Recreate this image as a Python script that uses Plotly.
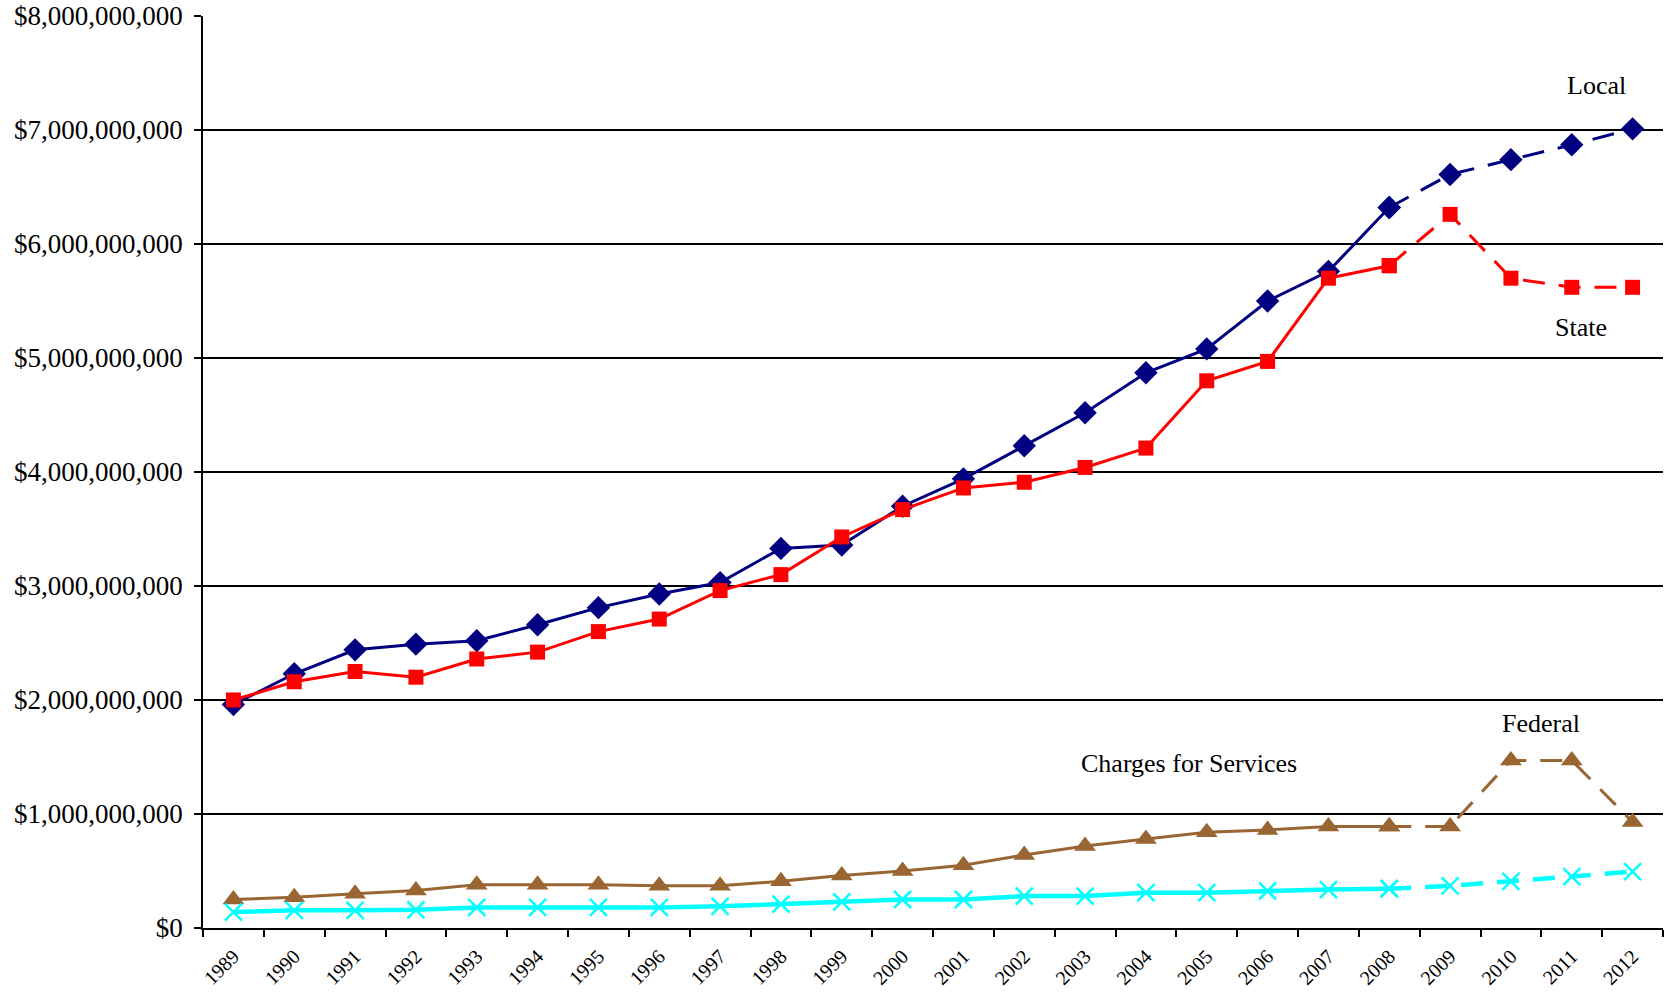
import plotly.graph_objects as go

years = [str(y) for y in range(1989, 2013)]

local = [1.96, 2.23, 2.44, 2.49, 2.52, 2.66, 2.81, 2.93, 3.03, 3.33, 3.36, 3.70, 3.94, 4.23, 4.52, 4.87, 5.08, 5.50, 5.76, 6.32, 6.61, 6.74, 6.87, 7.01]
state = [2.00, 2.16, 2.25, 2.20, 2.36, 2.42, 2.60, 2.71, 2.96, 3.10, 3.43, 3.67, 3.86, 3.91, 4.04, 4.21, 4.80, 4.97, 5.70, 5.81, 6.26, 5.70, 5.62, 5.62]
federal = [0.25, 0.27, 0.30, 0.33, 0.38, 0.38, 0.38, 0.37, 0.37, 0.41, 0.46, 0.50, 0.55, 0.64, 0.72, 0.78, 0.84, 0.86, 0.89, 0.89, 0.89, 1.47, 1.47, 0.93]
charges = [0.14, 0.155, 0.155, 0.16, 0.18, 0.18, 0.18, 0.18, 0.19, 0.21, 0.23, 0.25, 0.25, 0.28, 0.28, 0.31, 0.31, 0.325, 0.337, 0.345, 0.37, 0.41, 0.45, 0.495]

SPLIT = years.index("2008")
B = 1e9

series = [
    ("Local", local, "#000080", "diamond", 18, 3),
    ("State", state, "#FF0000", "square", 15, 3),
    ("Federal", federal, "#996633", "triangle-up", 19, 3),
    ("Charges for Services", charges, "#00FFFF", "x-thin", 17, 4.5),
]

fig = go.Figure()
for name, vals, color, sym, size, lw in series:
    yv = [v * B for v in vals]
    mk = dict(symbol=sym, size=size, color=color, line=dict(color=color, width=2.5 if sym == "x-thin" else 0))
    fig.add_trace(go.Scatter(x=years[:SPLIT + 1], y=yv[:SPLIT + 1], mode="lines+markers",
                             line=dict(color=color, width=lw), marker=mk, name=name, showlegend=False))
    fig.add_trace(go.Scatter(x=years[SPLIT:], y=yv[SPLIT:], mode="lines+markers",
                             line=dict(color=color, width=lw, dash="22px,14px"), marker=mk, name=name, showlegend=False))

font = "Liberation Serif, Times New Roman, serif"
labels = [
    ("Local", 22.4, 7.39),
    ("State", 22.15, 5.27),
    ("Federal", 21.5, 1.79),
    ("Charges for Services", 15.7, 1.445),
]
for text, xi, yv in labels:
    fig.add_annotation(x=xi, y=yv * B, xref="x", yref="y", text=text, showarrow=False,
                       font=dict(family=font, size=26, color="black"))

fig.update_layout(
    width=1671, height=995,
    margin=dict(l=203, r=8, t=16, b=67),
    plot_bgcolor="white", paper_bgcolor="white",
    font=dict(family=font, color="black"),
)
fig.update_xaxes(type="category", tickson="boundaries", ticks="outside", ticklen=7, tickwidth=1.5,
                 tickcolor="black", tickangle=-45, tickfont=dict(size=20, family=font),
                 showline=True, linecolor="black", linewidth=1.5, showgrid=False, automargin=False,
                 ticklabelstandoff=7, range=[-0.5, len(years) - 0.5])
fig.update_yaxes(range=[0, 8 * B], dtick=B, tickprefix="$", tickformat=",", ticks="outside",
                 ticklen=7, tickwidth=1.5, tickcolor="black", tickfont=dict(size=27, family=font),
                 showline=True, linecolor="black", linewidth=1.5, showgrid=True, automargin=False,
                 gridcolor="black", gridwidth=1.5, zeroline=False, ticklabelstandoff=6)

fig.write_html("out.html")
